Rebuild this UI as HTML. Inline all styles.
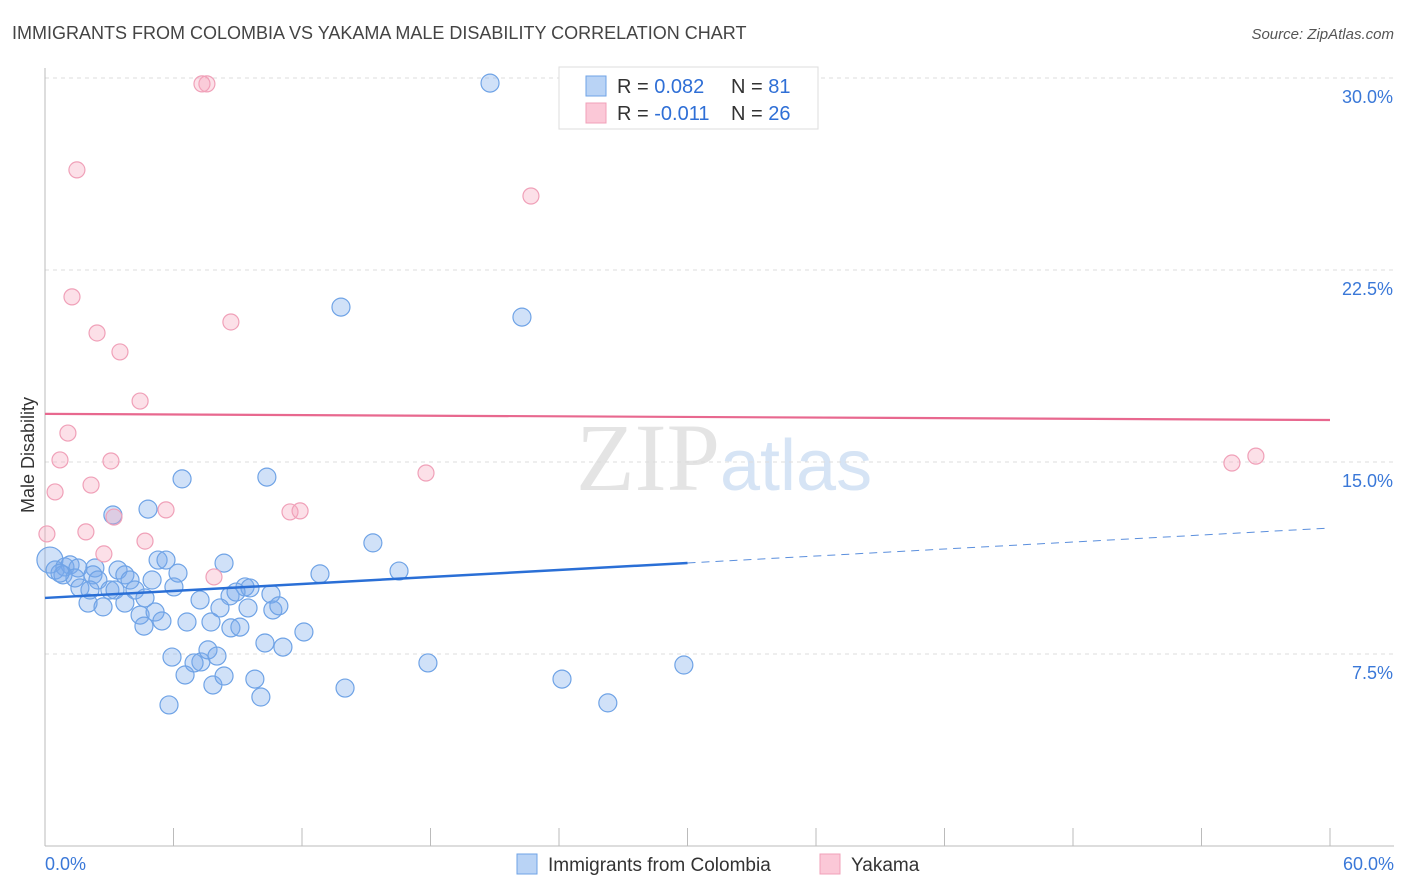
<!DOCTYPE html>
<html><head><meta charset="utf-8">
<style>
body{margin:0;background:#fff;font-family:"Liberation Sans",sans-serif;}
svg{display:block}
</style></head>
<body>
<svg id="chart" width="1406" height="892" xmlns="http://www.w3.org/2000/svg">
<text x="12" y="39" font-size="18" fill="#444">IMMIGRANTS FROM COLOMBIA VS YAKAMA MALE DISABILITY CORRELATION CHART</text>
<text x="1394" y="39" font-size="15" fill="#555" font-style="italic" text-anchor="end">Source: ZipAtlas.com</text>
<text x="720" y="490" font-size="96" fill="#e4e4e4" font-family="Liberation Serif,serif" text-anchor="end">ZIP</text>
<text x="720" y="490" font-size="72" fill="#d6e4f5">atlas</text>
<text transform="translate(34,455) rotate(-90)" font-size="18" fill="#333" text-anchor="middle">Male Disability</text>
<g id="grid"></g><g id="pts"></g><g id="lines"></g>
<g>
<rect x="559" y="67" width="259" height="62" fill="#fff" stroke="#ddd"/>
<rect x="586" y="76" width="20" height="20" fill="#b9d3f5" stroke="#6fa3e6"/>
<rect x="586" y="103" width="20" height="20" fill="#fbc8d7" stroke="#f0a0b8"/>
<text x="617" y="93" font-size="20" fill="#333">R = <tspan fill="#2f6fd6">0.082</tspan><tspan x="731">N = </tspan><tspan fill="#2f6fd6">81</tspan></text>
<text x="617" y="120" font-size="20" fill="#333">R = <tspan fill="#2f6fd6">-0.011</tspan><tspan x="731">N = </tspan><tspan fill="#2f6fd6">26</tspan></text>
</g>
<g>
<rect x="517" y="854" width="20" height="20" fill="#b9d3f5" stroke="#6fa3e6"/>
<text x="548" y="871" font-size="19" fill="#333">Immigrants from Colombia</text>
<rect x="820" y="854" width="20" height="20" fill="#fbc8d7" stroke="#f0a0b8"/>
<text x="851" y="871" font-size="19" fill="#333">Yakama</text>
</g>
</svg>
<script>
const yTicks=[7.5,15,22.5,30];
const yTickLabels=["7.5%","15.0%","22.5%","30.0%"];
const xTickCount=10;
const xLabels=["0.0%","60.0%"];
const blueX=[20.78,13.82,22.27,6.40,10.36,4.81,3.17,15.31,16.53,12.84,0.23,0.47,0.93,1.17,1.54,2.33,0.84,1.40,2.24,2.47,1.63,3.03,3.41,3.73,3.97,4.20,5.00,5.28,5.65,6.21,6.02,8.36,9.34,9.57,10.55,8.64,7.24,4.67,2.01,2.71,4.44,5.14,4.62,5.46,6.63,8.17,9.48,10.64,10.92,7.75,8.68,9.10,10.27,11.11,12.09,5.93,7.28,6.96,7.61,8.03,6.54,7.84,8.36,9.80,10.08,5.79,14.01,17.88,24.14,26.28,29.83,3.27,3.73,8.92,2.10,0.70];
const blueY=[29.80,21.05,20.66,14.34,14.41,13.16,12.93,11.84,10.74,10.63,11.17,10.78,10.90,10.98,10.86,10.86,10.59,10.47,10.59,10.39,10.08,10.00,10.78,10.59,10.39,10.00,10.39,11.17,11.17,10.66,10.12,11.05,10.12,10.08,9.84,9.77,9.61,9.69,9.49,9.34,9.02,9.14,8.59,8.79,8.75,9.30,9.30,9.22,9.38,8.75,8.52,8.55,7.93,7.77,8.36,7.38,7.19,7.15,7.66,7.42,6.68,6.29,6.64,6.52,5.82,5.51,6.17,7.15,6.52,5.59,7.07,10.00,9.49,9.92,10.00,10.66];
const pinkX=[7.56,7.33,1.49,22.69,1.26,2.43,8.68,3.50,4.44,1.07,0.70,3.08,0.47,2.15,5.65,3.22,1.91,2.75,4.67,7.89,11.44,11.91,17.79,55.42,56.54,0.09];
const pinkY=[29.77,29.77,26.41,25.39,21.45,20.04,20.47,19.30,17.38,16.13,15.08,15.04,13.83,14.10,13.13,12.85,12.27,11.41,11.91,10.51,13.05,13.09,14.57,14.96,15.23,12.19];
const blueTrend=[9.69,0.0455];
const pinkTrend=[16.88,-0.004];
const X0=45,X1=1330,Y0=846;
const sx=v=>X0+v*(X1-X0)/60;
const sy=v=>Y0-v*25.6;
const NS="http://www.w3.org/2000/svg";
function mk(tag,at,parent){const e=document.createElementNS(NS,tag);for(const k in at)e.setAttribute(k,at[k]);parent.appendChild(e);return e;}
const grid=document.getElementById('grid');
yTicks.forEach((t,i)=>{
 const l=mk('line',{x1:X0,x2:1394,y1:sy(t),y2:sy(t),stroke:'#ddd','stroke-dasharray':'4,4'},grid);
 
 
 const tx=mk('text',{x:1393,y:sy(t)+25,'font-size':18,fill:'#3a78d8','text-anchor':'end'},grid);
 tx.textContent=yTickLabels[i];
 
 
});
const ax=mk('line',{x1:X0,x2:1394,y1:Y0,y2:Y0,stroke:'#bbb'},grid);


const ay=mk('line',{x1:X0,x2:X0,y1:68,y2:Y0,stroke:'#bbb'},grid);


for(let i=1;i<=xTickCount;i++){
 const v=i*60/xTickCount;
 const t=mk('line',{x1:sx(v),x2:sx(v),y1:Y0,y2:Y0-18,stroke:'#bbb'},grid);
 
 
}
[[0,'start',X0],[60,'end',1394]].forEach((d,i)=>{
 const tx=mk('text',{x:d[2],y:870,'font-size':18,fill:'#3a78d8','text-anchor':d[1]},grid);
 tx.textContent=xLabels[i];
 
 
});
const pts=document.getElementById('pts');
blueX.forEach((x,i)=>{
 const c=mk('circle',{cx:sx(x),cy:sy(blueY[i]),r:i==10?13:9,fill:'rgba(120,170,235,0.35)',stroke:'#6fa3e6','stroke-width':1.2},pts);
 
 
});
pinkX.forEach((x,i)=>{
 const c=mk('circle',{cx:sx(x),cy:sy(pinkY[i]),r:8,fill:'rgba(245,165,190,0.35)',stroke:'#f0a0b8','stroke-width':1.2},pts);
 
 
});
const lines=document.getElementById('lines');
const bf=v=>blueTrend[0]+blueTrend[1]*v, pf=v=>pinkTrend[0]+pinkTrend[1]*v;
const b1=mk('line',{x1:sx(0),y1:sy(bf(0)),x2:sx(30),y2:sy(bf(30)),stroke:'#2a6fd6','stroke-width':2.5},lines);


const b2=mk('line',{x1:sx(30),y1:sy(bf(30)),x2:sx(60),y2:sy(bf(60)),stroke:'#5b8fdd','stroke-width':1,'stroke-dasharray':'8,6'},lines);


const p1=mk('line',{x1:sx(0),y1:sy(pf(0)),x2:sx(60),y2:sy(pf(60)),stroke:'#e8688f','stroke-width':2.2},lines);


</script>
</body></html>
